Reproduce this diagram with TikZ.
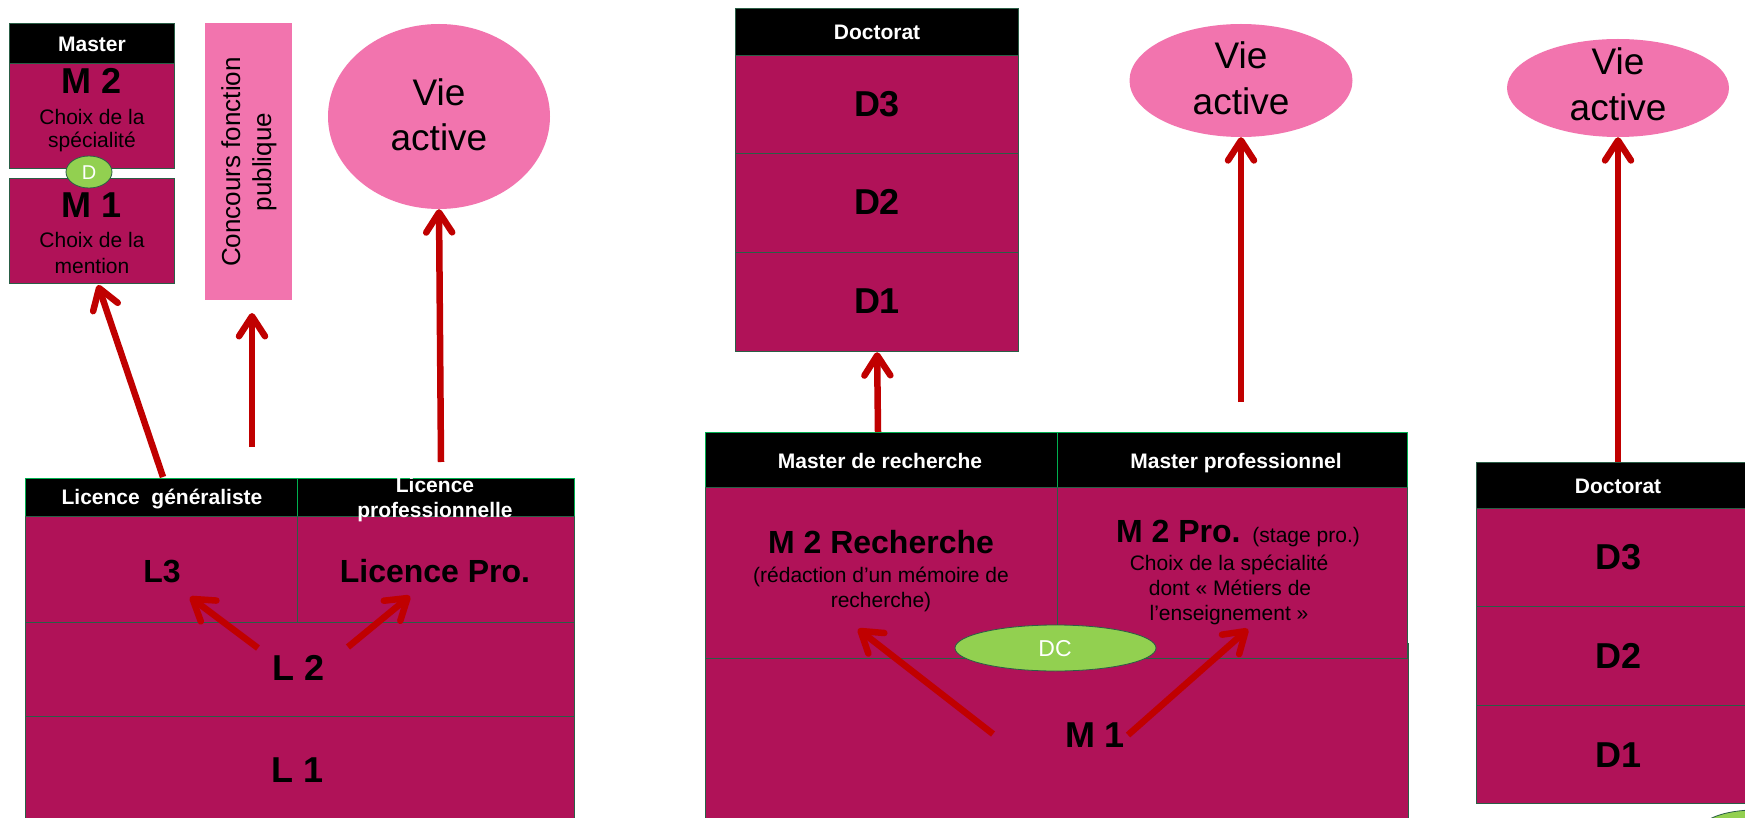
\documentclass[tikz,border=0pt]{standalone}
\usepackage{fontspec}
\setmainfont{Liberation Sans}
\usetikzlibrary{arrows.meta,shapes.geometric}
\definecolor{mag}{HTML}{B01258}
\definecolor{pinkc}{HTML}{F274AE}
\definecolor{greenc}{HTML}{92D050}
\definecolor{redc}{HTML}{C00000}
\definecolor{hdrline}{HTML}{00B050}
\definecolor{cellline}{HTML}{2A5E46}
\newcommand\myfs[1]{\fontsize{#1}{#1}\selectfont}
\begin{document}
\begin{tikzpicture}[x=1pt,y=-1pt,
  cell/.style={draw=cellline, line width=1.2pt, fill=mag, inner sep=0pt, anchor=north west},
  hdr/.style={draw=hdrline, line width=1.2pt, fill=black, inner sep=0pt, anchor=north west},
  dhdr/.style={draw=cellline, line width=1.2pt, fill=black, inner sep=0pt, anchor=north west},
  pinkel/.style={ellipse, fill=pinkc, inner sep=0pt},
  greenel/.style={ellipse, fill=greenc, draw=cellline, line width=0.8pt, inner sep=0pt},
  txt/.style={inner sep=0pt, anchor=base},
  htxt/.style={txt, text=white, font=\myfs{21}\bfseries},
  big/.style={txt, font=\myfs{36}\bfseries},
  mid/.style={txt, font=\myfs{32}\bfseries},
  small/.style={txt, font=\myfs{21}},
  vie/.style={txt, font=\myfs{37}},
  arr/.style={draw=redc, line width=6.5pt, -{Straight Barb[length=20pt,width=26pt,round]}}
]
\clip (0,0) rectangle (1745,818);
\fill[white] (0,0) rectangle (1745,818);

% ---------- left: Master box ----------
\node[dhdr, minimum width=165pt, minimum height=40pt] (masterH) at (9,23) {};
\node[cell, minimum width=165pt, minimum height=105pt] (m2L) at (9,63) {};
\node[cell, minimum width=165pt, minimum height=105pt] (m1L) at (9,178) {};
\node[greenel, minimum width=46pt, minimum height=32pt] (dL) at (89,172) {};
\node[htxt] (tmaster) at (92,52) {Master};
\node[big] (tm2L) at (92,94) {M 2};
\node[small] (tm2La) at (92,125) {Choix de la};
\node[small] (tm2Lb) at (92,148) {spécialité};
\node[big] (tm1L) at (92,218) {M 1};
\node[small] (tm1La) at (92,248) {Choix de la};
\node[small] (tm1Lb) at (92,273) {mention};
\node[txt, text=white, font=\myfs{20}] (tdL) at (89,180) {D};

% concours
\node[fill=pinkc, inner sep=0pt, anchor=north west, minimum width=87pt, minimum height=277pt] (conc) at (205,23) {};
\node[inner sep=0pt, rotate=90, align=center, font=\fontsize{26}{31}\selectfont] (tconc) at (249,162) {Concours fonction\\publique};

% vie active left
\node[pinkel, minimum width=222pt, minimum height=185pt] (vieL) at (439,116.5) {};
\node[vie] (tvieL1) at (439,106) {Vie};
\node[vie] (tvieL2) at (439,151) {active};

% ---------- Licence table ----------
\node[hdr, minimum width=272pt, minimum height=38pt] (lgH) at (25,478) {};
\node[hdr, minimum width=277pt, minimum height=38pt] (lpH) at (297,478) {};
\node[cell, minimum width=272pt, minimum height=106pt] (l3) at (25,516) {};
\node[cell, minimum width=277pt, minimum height=106pt] (lpro) at (297,516) {};
\node[cell, minimum width=549pt, minimum height=94pt] (l2) at (25,622) {};
\node[cell, minimum width=549pt, minimum height=114pt] (l1) at (25,716) {};
\node[htxt] (tlg) at (162,504) {Licence\ \ généraliste};
\node[htxt] (tlp1) at (435,492) {Licence};
\node[htxt] (tlp2) at (435,517) {professionnelle};
\node[mid] (tl3) at (162,582) {L3};
\node[mid] (tlpro) at (435,582) {Licence Pro.};
\node[big] (tl2) at (299,680) {L 2};
\node[big] (tl1) at (298,782) {L 1};

% ---------- middle Doctorat ----------
\node[dhdr, minimum width=283pt, minimum height=47pt] (dH) at (735,8) {};
\node[cell, minimum width=283pt, minimum height=98pt] (d3) at (735,55) {};
\node[cell, minimum width=283pt, minimum height=99pt] (d2) at (735,153) {};
\node[cell, minimum width=283pt, minimum height=99pt] (d1) at (735,252) {};
\node[htxt] (tdH) at (877,40) {Doctorat};
\node[big] (td3) at (877,117) {D3};
\node[big] (td2) at (877,215) {D2};
\node[big] (td1) at (877,313) {D1};

% ---------- Master table ----------
\node[cell, minimum width=703pt, minimum height=190pt] (m1M) at (705,643) {};
\node[hdr, minimum width=352pt, minimum height=55pt] (mrH) at (705,432) {};
\node[hdr, minimum width=350pt, minimum height=55pt] (mpH) at (1057,432) {};
\node[cell, minimum width=352pt, minimum height=171pt] (m2r) at (705,487) {};
\node[cell, minimum width=350pt, minimum height=171pt] (m2p) at (1057,487) {};
\node[greenel, minimum width=201pt, minimum height=46pt] (dc) at (1055.5,648) {};
\node[htxt] (tmr) at (880,468) {Master de recherche};
\node[htxt] (tmp) at (1236,468) {Master professionnel};
\node[mid] (tm2r) at (881,553) {M 2 Recherche};
\node[small] (tm2ra) at (881,582) {(rédaction d’un mémoire de};
\node[small] (tm2rb) at (881,607) {recherche)};
\node[txt] (tm2p) at (1238,542) {\myfs{32}\bfseries M 2 Pro. \myfs{21}\mdseries (stage pro.)};
\node[small] (tm2pa) at (1229,570) {Choix de la spécialité};
\node[small] (tm2pb) at (1230,595) {dont « Métiers de};
\node[small] (tm2pc) at (1229,620) {l’enseignement »};
\node[txt, text=white, font=\myfs{23}] (tdc) at (1055,656) {DC};
\node[big] (tm1M) at (1095,747) {M 1};

% vie active middle
\node[pinkel, minimum width=223pt, minimum height=113pt] (vieM) at (1241,80.5) {};
\node[vie] (tvieM1) at (1241,69) {Vie};
\node[vie] (tvieM2) at (1241,115) {active};

% ---------- right ----------
\node[pinkel, minimum width=222pt, minimum height=98pt] (vieR) at (1618,88) {};
\node[vie] (tvieR1) at (1618,75) {Vie};
\node[vie] (tvieR2) at (1618,121) {active};
\node[dhdr, minimum width=284pt, minimum height=46pt] (rdH) at (1476,462) {};
\node[cell, minimum width=284pt, minimum height=98pt] (rd3) at (1476,508) {};
\node[cell, minimum width=284pt, minimum height=99pt] (rd2) at (1476,606) {};
\node[cell, minimum width=284pt, minimum height=98pt] (rd1) at (1476,705) {};
\node[htxt] (trdH) at (1618,493) {Doctorat};
\node[big] (trd3) at (1618,569) {D3};
\node[big] (trd2) at (1618,668) {D2};
\node[big] (trd1) at (1618,767) {D1};
\node[greenel, minimum width=112pt, minimum height=44pt] (gR) at (1755,832) {};

% ---------- arrows ----------
\coordinate (a1s) at (163,477);  \coordinate (a1e) at (98,285);
\coordinate (a2s) at (252,447);  \coordinate (a2e) at (252,313);
\coordinate (a3s) at (441,462);
\coordinate (a4s) at (258,648);  \coordinate (a4e) at (190,597);
\coordinate (a5s) at (348,647);  \coordinate (a5e) at (410,596);
\coordinate (a6s) at (878,432);
\coordinate (a7s) at (993,734);  \coordinate (a7e) at (858,629);
\coordinate (a8s) at (1128,735); \coordinate (a8e) at (1248,629);
\coordinate (a9s) at (1241,402);
\coordinate (a10s) at (1618,462);

\draw[arr] (a1s) -- (a1e);
\draw[arr] (a2s) -- (a2e);
\draw[arr] (a3s) -- (vieL.south);
\draw[arr] (a4s) -- (a4e);
\draw[arr] (a5s) -- (a5e);
\draw[arr] (a6s) -- (d1.south);
\draw[arr] (a7s) -- (a7e);
\draw[arr] (a8s) -- (a8e);
\draw[arr] (a9s) -- (vieM.south);
\draw[arr] (a10s) -- (vieR.south);
\end{tikzpicture}
\end{document}
